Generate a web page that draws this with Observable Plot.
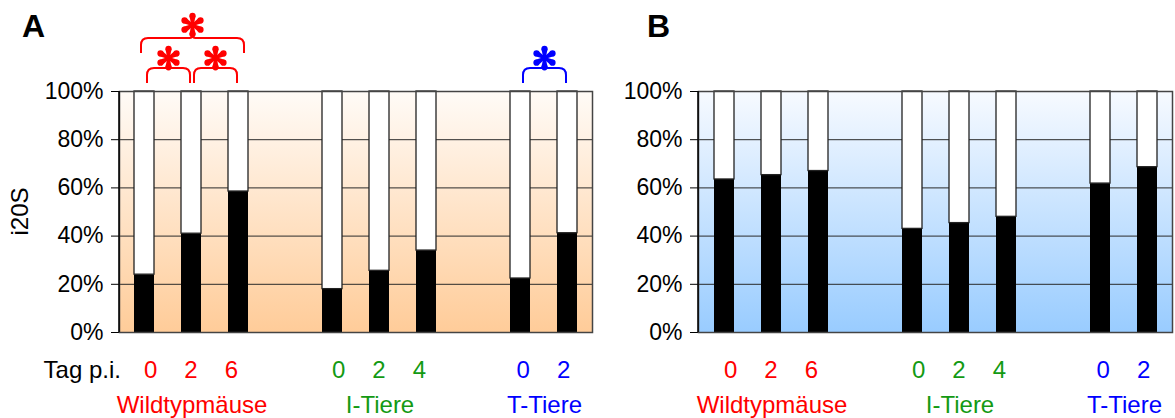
<!DOCTYPE html>
<html><head><meta charset="utf-8">
<script src="https://cdn.jsdelivr.net/npm/d3@7"></script>
<script src="https://cdn.jsdelivr.net/npm/@observablehq/plot@0.6"></script>
<style>
body{margin:0;background:#fff;}
#wrap{display:flex;width:1175px;height:418px;}
</style></head><body><div id="wrap"></div>
<script>
const FONT = "'Liberation Sans', Arial, sans-serif";
const groups = ["Wildtypmäuse", "I-Tiere", "T-Tiere"];
const groupColors = ["#ff0000", "#139a13", "#0000ff"];
const days = [[0, 2, 6], [0, 2, 4], [0, 2]];
const valuesA = [[24, 41, 58.5], [18, 25.6, 34], [22.4, 41.2]];
const valuesB = [[63.5, 65.3, 67], [43, 45.4, 48], [61.8, 68.6]];
const yTicks = [0, 20, 40, 60, 80, 100];
const gridLines = [20, 40, 60, 80];
const dayLabel = "Tag p.i.";
const yLabel = "i20S";
const sigA = [
  {group: 0, from: 0, to: 1, level: 0},
  {group: 0, from: 1, to: 2, level: 0},
  {group: 0, from: 0, to: 2, level: 1},
  {group: 2, from: 0, to: 1, level: 0}
];
const sigB = [];

function keyOf(g, i) { return groups[g] + "|" + days[g][i]; }
const xDomain = [];
groups.forEach((g, gi) => {
  if (gi > 0) xDomain.push("gap" + gi);
  days[gi].forEach((d, i) => xDomain.push(keyOf(gi, i)));
});
function rows(values) {
  const out = [];
  groups.forEach((g, gi) => days[gi].forEach((d, i) => out.push({key: keyOf(gi, i), group: gi, day: d, value: values[gi][i]})));
  return out;
}

const NS = "http://www.w3.org/2000/svg";
function el(tag, attrs, parent) {
  const e = document.createElementNS(NS, tag);
  for (const k in attrs) e.setAttribute(k, attrs[k]);
  if (parent) parent.appendChild(e);
  return e;
}

function background(id, top, bottom) {
  return (index, scales, values, dims) => {
    const g = el("g", {});
    const defs = el("defs", {}, g);
    const lg = el("linearGradient", {id, x1: 0, y1: 0, x2: 0, y2: 1}, defs);
    el("stop", {offset: "0%", "stop-color": top}, lg);
    el("stop", {offset: "100%", "stop-color": bottom}, lg);
    el("rect", {x: dims.marginLeft, y: dims.marginTop,
      width: dims.width - dims.marginLeft - dims.marginRight,
      height: dims.height - dims.marginTop - dims.marginBottom,
      fill: `url(#${id})`}, g);
    return g;
  };
}

function drawStar(g, cx, cy, R, color) {
  const sg = el("g", {fill: color}, g);
  for (let k = 0; k < 6; k++) {
    const a = k * Math.PI / 3;
    const ux = Math.sin(a), uy = -Math.cos(a);
    const px = -uy, py = ux;
    const c = 0.74 * R, rr = 0.25 * R, w0 = 0.1 * R;
    const bx = cx + ux * c, by = cy + uy * c;
    el("polygon", {points: `${cx + px * w0},${cy + py * w0} ${bx + px * rr},${by + py * rr} ${bx - px * rr},${by - py * rr} ${cx - px * w0},${cy - py * w0}`}, sg);
    el("circle", {cx: bx, cy: by, r: rr}, sg);
  }
  el("circle", {cx, cy, r: 0.18 * R}, sg);
}

function annotations(letter, letterX, sigs, withLeftLabels) {
  return (index, scales, values, dims) => {
    const x = scales.x;
    const bw = x.bandwidth ? x.bandwidth() : 0;
    const cx = k => x(k) + bw / 2;
    const top = dims.marginTop, bottom = dims.height - dims.marginBottom;
    const g = el("g", {"font-family": FONT, "text-anchor": "start"});
    el("line", {x1: dims.marginLeft, x2: dims.marginLeft, y1: top, y2: bottom, stroke: "#000", "stroke-width": 1.5}, g);
    const t = el("text", {x: letterX, y: 37, "font-size": 32, "font-weight": "bold", fill: "#000", "text-anchor": "start"}, g);
    t.textContent = letter;
    if (withLeftLabels) {
      const yl = el("text", {transform: `translate(20,${(top + bottom) / 2}) rotate(-90)`, "text-anchor": "middle", dy: "0.35em", "font-size": 24, fill: "#000"}, g);
      yl.textContent = yLabel;
      const dl = el("text", {x: dims.marginLeft + 2, y: bottom + 46, "text-anchor": "end", "font-size": 24, fill: "#000"}, g);
      dl.textContent = dayLabel;
    }
    groups.forEach((name, gi) => {
      const xs = days[gi].map((d, i) => cx(keyOf(gi, i)));
      const gc = d3.mean(xs);
      days[gi].forEach((d, i) => {
        const tt = el("text", {x: gc + (xs[i] - gc) * 0.86, y: bottom + 46, "text-anchor": "middle", "font-size": 24, fill: groupColors[gi]}, g);
        tt.textContent = String(d);
      });
      const gl = el("text", {x: gc + 1, y: bottom + 81, "text-anchor": "middle", "font-size": 24, fill: groupColors[gi]}, g);
      gl.textContent = name;
    });
    sigs.forEach(s => {
      const color = groupColors[s.group];
      const ca = cx(keyOf(s.group, s.from)), cb = cx(keyOf(s.group, s.to));
      let x1, x2, yLine, yLeg, yStar;
      if (s.level === 0) { x1 = ca + 3; x2 = cb - 1; yLine = top - 23; yLeg = top - 8; yStar = top - 33; }
      else { x1 = ca - 3; x2 = cb + 6; yLine = top - 53; yLeg = top - 38; yStar = top - 66; }
      const xm = (x1 + x2) / 2, r = 7, b = 3;
      const d = `M${x1},${yLeg} L${x1},${yLine + r} Q${x1},${yLine} ${x1 + r},${yLine} L${xm - b},${yLine} Q${xm},${yLine} ${xm},${yLine - b} Q${xm},${yLine} ${xm + b},${yLine} L${x2 - r},${yLine} Q${x2},${yLine} ${x2},${yLine + r} L${x2},${yLeg}`;
      el("path", {d, fill: "none", stroke: color, "stroke-width": 2}, g);
      drawStar(g, xm, yStar, 12.5, color);
    });
    return g;
  };
}

function panel(values, o) {
  const data = rows(values);
  return Plot.plot({
    width: o.width, height: 418,
    marginLeft: o.ml, marginRight: o.mr, marginTop: 91, marginBottom: 86,
    style: {fontFamily: FONT, fontSize: "23px", background: "transparent", color: "#000", overflow: "visible"},
    x: {type: "band", domain: xDomain, paddingInner: 0.58, paddingOuter: 0.29, axis: null},
    y: {domain: [0, 100], ticks: yTicks, tickFormat: d => d + "%", tickSize: 8, tickPadding: 8, label: null},
    marks: [
      background(o.gradId, o.top, o.bottom),
      Plot.ruleY(gridLines, {stroke: "#2a2a2a", strokeWidth: 1}),
      Plot.barY(data, {x: "key", y1: 0, y2: "value", fill: "#000"}),
      Plot.barY(data, {x: "key", y1: "value", y2: 100, fill: "#fff", stroke: "#222", strokeWidth: 1.3}),
      Plot.frame({stroke: "#444", strokeWidth: 1.5}),
      annotations(o.letter, o.letterX, o.sigs, o.leftLabels)
    ]
  });
}

const wrap = document.getElementById("wrap");
wrap.appendChild(panel(valuesA, {width: 600, ml: 119, mr: 8, gradId: "gradA", top: "#fffbf7", bottom: "#ffcc99", letter: "A", letterX: 22, sigs: sigA, leftLabels: true}));
wrap.appendChild(panel(valuesB, {width: 575, ml: 98, mr: 3, gradId: "gradB", top: "#f7faff", bottom: "#99ccff", letter: "B", letterX: 47, sigs: sigB, leftLabels: false}));
</script>
</body></html>
